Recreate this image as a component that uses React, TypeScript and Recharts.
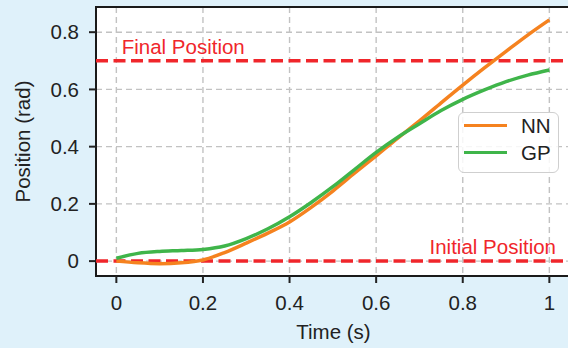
import { LineChart, Line, XAxis, YAxis, CartesianGrid, ReferenceLine, ReferenceArea, Legend } from 'recharts';

// time samples (s) and positions (rad)
const times = [0, 0.05, 0.1, 0.15, 0.2, 0.25, 0.3, 0.35, 0.4, 0.45, 0.5, 0.55, 0.6, 0.65, 0.7, 0.75, 0.8, 0.85, 0.9, 0.95, 1];
const nnPosition = [0, -0.006, -0.009, -0.006, 0.004, 0.03, 0.063, 0.098, 0.137, 0.188, 0.245, 0.307, 0.368, 0.43, 0.49, 0.553, 0.615, 0.675, 0.733, 0.79, 0.843];
const gpPosition = [0.01, 0.027, 0.034, 0.037, 0.041, 0.053, 0.079, 0.113, 0.155, 0.205, 0.26, 0.32, 0.38, 0.433, 0.48, 0.526, 0.565, 0.598, 0.627, 0.65, 0.668];
const seriesNames = ['NN', 'GP'];

const xTicks = [0, 0.2, 0.4, 0.6, 0.8, 1];
const yTicks = [0, 0.2, 0.4, 0.6, 0.8];
const xDomain = [-0.047, 1.05];
const yDomain = [-0.052, 0.888];

const finalPosition = 0.7;
const initialPosition = 0;

const RED = '#f0262b';
const INK = '#222';
const FS = 20.5;

const data = times.map((t, i) => ({
  t,
  NN: nnPosition[i],
  GP: gpPosition[i],
}));

const YLabel = (props: any) => {
  const vb = props.viewBox || {};
  const x = vb.x + 29.7;
  const y = vb.y + vb.height / 2;
  return (
    <text x={x} y={y} transform={`rotate(-90 ${x} ${y})`} textAnchor="middle" fontSize={FS} fill={INK}>
      Position (rad)
    </text>
  );
};

const XLabel = (props: any) => {
  const vb = props.viewBox || {};
  return (
    <text x={vb.x + vb.width / 2} y={vb.y + 63.3} textAnchor="middle" fontSize={FS} fill={INK}>
      Time (s)
    </text>
  );
};

const FinalLabel = (props: any) => {
  const vb = props.viewBox || {};
  return (
    <text x={vb.x + 25.7} y={vb.y - 6.6} textAnchor="start" fontSize={FS} fill={RED}>
      Final Position
    </text>
  );
};

const InitialLabel = (props: any) => {
  const vb = props.viewBox || {};
  return (
    <text x={vb.x + vb.width - 15} y={vb.y - 7.5} textAnchor="end" fontSize={FS} fill={RED}>
      Initial Position
    </text>
  );
};

const renderLegend = (props: any) => {
  const items = [...(props.payload || [])].sort(
    (a: any, b: any) => seriesNames.indexOf(a.value) - seriesNames.indexOf(b.value)
  );
  return (
    <div
      style={{
        boxSizing: 'border-box',
        width: 101,
        height: 61,
        border: '1.5px solid #cfcfcf',
        borderRadius: 6,
        background: 'rgba(255,255,255,0.85)',
        position: 'relative',
      }}
    >
      {items.map((entry: any, i: number) => (
        <div
          key={entry.value}
          style={{ position: 'absolute', left: 0, top: 0.5 + i * 27, height: 24, display: 'flex', alignItems: 'center' }}
        >
          <span style={{ display: 'inline-block', marginLeft: 5, width: 43, height: 3, background: entry.color }} />
          <span style={{ marginLeft: 14, fontSize: FS, color: INK, lineHeight: '24px' }}>{entry.value}</span>
        </div>
      ))}
    </div>
  );
};

export default function App() {
  return (
    <div
      style={{
        position: 'fixed',
        left: 0,
        top: 0,
        width: 568,
        height: 348,
        overflow: 'hidden',
        background: '#dff1fa',
        fontFamily: '"Liberation Sans", Arial, sans-serif',
      }}
    >
      <LineChart width={575} height={348} data={data} margin={{ top: 7, right: 4, bottom: 0, left: 0 }}>
        <CartesianGrid fill="#fff" stroke="#c2c2c2" strokeWidth={1.4} strokeDasharray="6 4" />
        <XAxis
          dataKey="t"
          type="number"
          domain={xDomain}
          ticks={xTicks}
          allowDataOverflow
          height={72}
          axisLine={false}
          tickLine={{ stroke: INK, strokeWidth: 2 }}
          tickSize={7}
          tickMargin={12}
          tick={{ fontSize: FS, fill: INK }}
          tickFormatter={(v: number) => String(v)}
          label={<XLabel />}
        />
        <YAxis
          type="number"
          domain={yDomain}
          ticks={yTicks}
          allowDataOverflow
          width={96}
          axisLine={false}
          tickLine={{ stroke: INK, strokeWidth: 2 }}
          tickSize={7}
          tickMargin={10}
          tick={{ fontSize: FS, fill: INK }}
          tickFormatter={(v: number) => String(v)}
          label={<YLabel />}
        />
        <ReferenceLine
          y={finalPosition}
          stroke={RED}
          strokeWidth={3.5}
          strokeDasharray="12 5.5"
          label={<FinalLabel />}
        />
        <ReferenceLine
          y={initialPosition}
          stroke={RED}
          strokeWidth={3.5}
          strokeDasharray="12 5.5"
          label={<InitialLabel />}
        />
        <Line type="monotone" dataKey="NN" name="NN" stroke="#f5821f" strokeWidth={3.5} dot={false} isAnimationActive={false} />
        <Line type="monotone" dataKey="GP" name="GP" stroke="#3fb54a" strokeWidth={3.5} dot={false} isAnimationActive={false} />
        <ReferenceArea
          x1={xDomain[0]}
          x2={xDomain[1]}
          y1={yDomain[0]}
          y2={yDomain[1]}
          fill="none"
          stroke="#1a1a1a"
          strokeWidth={2}
          ifOverflow="visible"
        />
        <Legend
          layout="vertical"
          align="center"
          verticalAlign="middle"
          content={renderLegend}
          wrapperStyle={{ left: 458, top: 112, width: 101, height: 61 }}
        />
      </LineChart>
    </div>
  );
}
